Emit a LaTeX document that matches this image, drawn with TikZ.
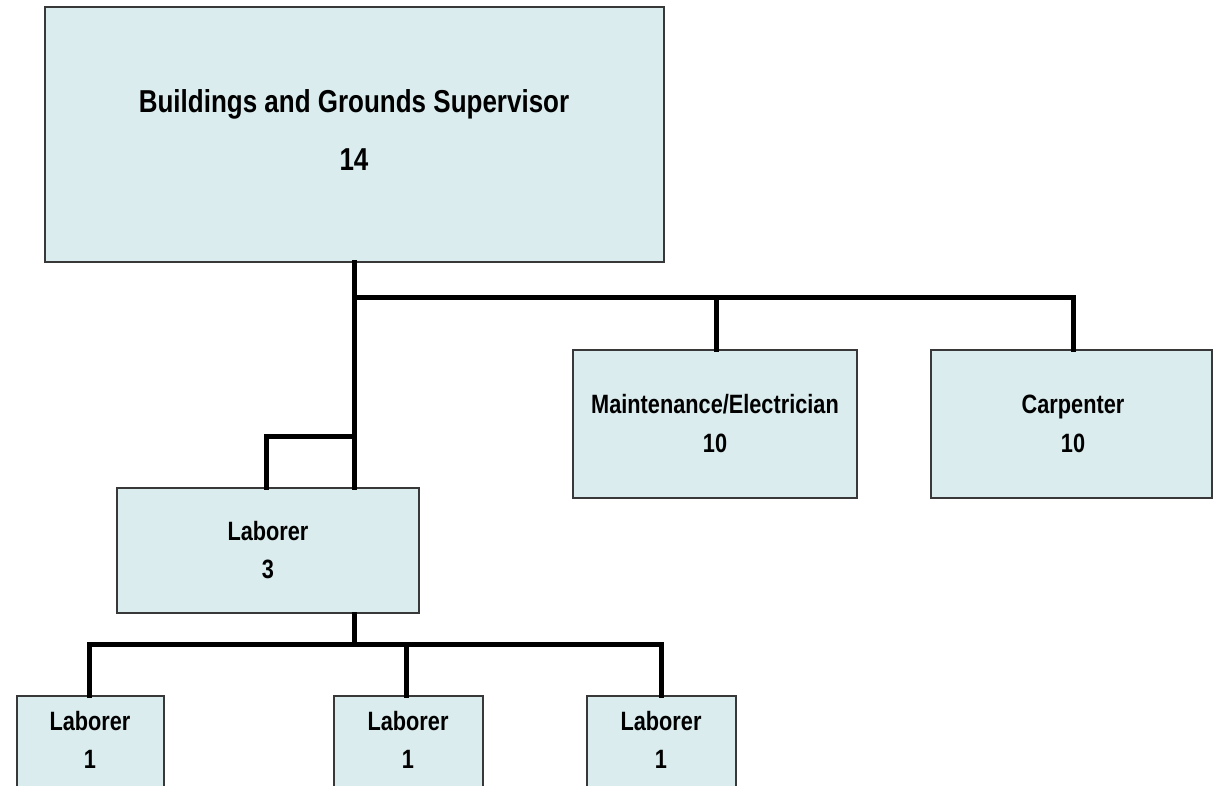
\documentclass[tikz,border=0pt]{standalone}
\usepackage{fontspec}
\setmainfont{Liberation Sans}[FakeStretch=0.82]
\usetikzlibrary{fit}
\definecolor{boxfill}{HTML}{DAECEE}
\definecolor{boxline}{HTML}{383838}
\tikzset{
  unit/.style={draw=boxline, line width=2pt, fill=boxfill, rectangle, inner sep=0pt},
  link/.style={line width=5pt, line join=miter, line cap=rect, black},
  bigtxt/.style={anchor=base, inner sep=0pt, font=\fontsize{31.7}{36}\selectfont\bfseries},
  smalltxt/.style={anchor=base, inner sep=0pt, font=\fontsize{26.5}{30}\selectfont\bfseries},
}
\newcommand{\unitbox}[3]{% name, lower-left/upper-right corners in px
  \path #2 coordinate (#1-a) #3 coordinate (#1-b);
  \node[unit, fit=(#1-a)(#1-b)] (#1) {};
}
\begin{document}
\begin{tikzpicture}[x=1pt, y=-1pt]
  \useasboundingbox (0,0) rectangle (1213,786);
  \clip (0,0) rectangle (1213,786);

  % boxes
  \unitbox{sup}{(45,7)}{(664,262)}
  \unitbox{maint}{(573,350)}{(857,498)}
  \unitbox{carp}{(931,350)}{(1212,498)}
  \unitbox{labc}{(117,488)}{(419,613)}
  \unitbox{labx}{(17,696)}{(164,820)}
  \unitbox{laby}{(334,696)}{(483,820)}
  \unitbox{labz}{(587,696)}{(736,820)}

  % box texts
  \node[bigtxt] (supname) at (354,113) {Buildings and Grounds Supervisor};
  \node[bigtxt] (supnum) at (354,171) {14};
  \node[smalltxt] (maintname) at (715,413) {Maintenance/Electrician};
  \node[smalltxt] (maintnum) at (715,452) {10};
  \node[smalltxt] (carpname) at (1073,413) {Carpenter};
  \node[smalltxt] (carpnum) at (1073,452) {10};
  \node[smalltxt] (labcname) at (268,540) {Laborer};
  \node[smalltxt] (labcnum) at (268,578) {3};
  \node[smalltxt] (labxname) at (90,730) {Laborer};
  \node[smalltxt] (labxnum) at (90,768) {1};
  \node[smalltxt] (labyname) at (408,730) {Laborer};
  \node[smalltxt] (labynum) at (408,768) {1};
  \node[smalltxt] (labzname) at (661,730) {Laborer};
  \node[smalltxt] (labznum) at (661,768) {1};

  % junction points of the connectors
  \coordinate (busa) at (354,298);
  \coordinate (brk) at (354,436);
  \coordinate (busb) at (354,644);

  % supervisor trunk and its branches
  \draw[link] (sup.south) -- (sup.south |- labc.north);
  \draw[link] (busa) -| ([xshift=1pt]maint.north);
  \draw[link] (busa) -| ([xshift=1.5pt]carp.north);
  \draw[link] (brk) -| ([xshift=-2pt]labc.north);

  % laborer crew
  \draw[link] (busb |- labc.south) -- (busb);
  \draw[link] (busb) -| ([xshift=-1pt]labx.north);
  \draw[link] (busb) -| ([xshift=-2pt]laby.north);
  \draw[link] (busb) -| ([xshift=-0.5pt]labz.north);
\end{tikzpicture}
\end{document}
